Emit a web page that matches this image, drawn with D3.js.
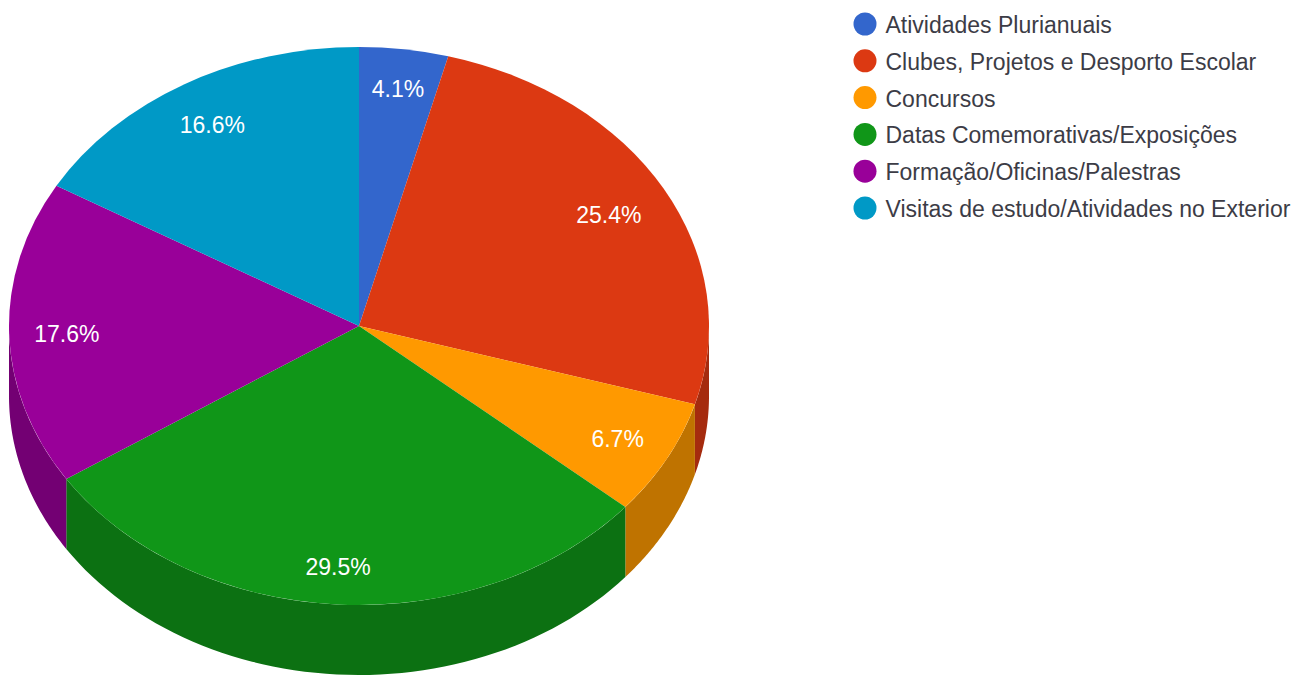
<!DOCTYPE html>
<html><head><meta charset="utf-8">
<style>html,body{margin:0;padding:0;background:#fff}svg{display:block}</style>
<script src="https://cdn.jsdelivr.net/npm/d3@7"></script></head>
<body><svg id="c" width="1311" height="675"></svg>
<script>
const categories=["Atividades Plurianuais","Clubes, Projetos e Desporto Escolar","Concursos","Datas Comemorativas/Exposições","Formação/Oficinas/Palestras","Visitas de estudo/Atividades no Exterior"];
const values=[4.1,25.4,6.7,29.5,17.6,16.6];
const colors=["#3366cc","#dc3912","#ff9900","#109618","#990099","#0099c6"];
const sideColors=["#264d99","#a52b0e","#bf7300","#0c7112","#730073","#007395"];
const cx=359,cy=326,rx=350,ry=279,depth=70;
const svg=d3.select("#c");
const font="'Liberation Sans', Arial, sans-serif";
const pie=d3.pie().sort(null).value(d=>d)(values);
const px=a=>cx+rx*Math.sin(a), py=a=>cy-ry*Math.cos(a);
// side wall
pie.forEach((s,i)=>{
  const a0=Math.max(s.startAngle,Math.PI/2),a1=Math.min(s.endAngle,Math.PI*1.5);
  if(a1<=a0)return;
  const p=d3.path();
  const n=60;
  const ang=d3.range(n+1).map(k=>a0+(a1-a0)*k/n);
  ang.forEach((a,k)=>k?p.lineTo(px(a),py(a)):p.moveTo(px(a),py(a)));
  ang.slice().reverse().forEach(a=>p.lineTo(px(a),py(a)+depth));
  p.closePath();
  svg.append("path").attr("d",p.toString()).attr("fill",sideColors[i]);
});
// top face
const arc=d3.arc().innerRadius(0).outerRadius(rx);
const face=svg.append("g").attr("transform",`translate(${cx},${cy}) scale(1,${ry/rx})`);
face.selectAll("path").data(pie).join("path").attr("d",arc).attr("fill",(d,i)=>colors[i]);
// labels
const labelR=[0.865,0.82,0.84,0.86,0.835,0.84];
pie.forEach((s,i)=>{
  const m=(s.startAngle+s.endAngle)/2;
  svg.append("text").attr("x",cx+rx*labelR[i]*Math.sin(m)-(i===3?2:0)).attr("y",cy-ry*labelR[i]*Math.cos(m)+10)
   .attr("text-anchor","middle").attr("fill","#fff").attr("font-family",font).attr("font-size",23).text(values[i].toFixed(1)+"%");
});
// legend
const lg=svg.append("g");
const ly=d3.scalePoint().domain(categories).range([24,208]);
categories.forEach((c,i)=>{
  lg.append("circle").attr("cx",865).attr("cy",ly(c)).attr("r",11.5).attr("fill",colors[i]);
  lg.append("text").attr("x",885.5).attr("y",ly(c)+9).attr("fill","#3c3c46").attr("font-family",font).attr("font-size",23).text(c);
});
</script></body></html>
